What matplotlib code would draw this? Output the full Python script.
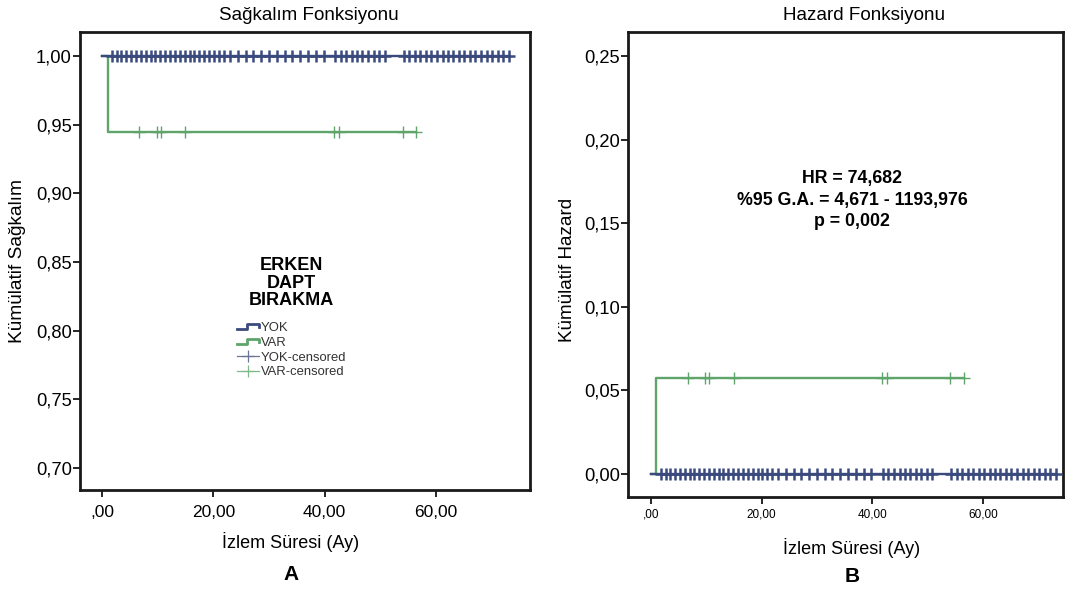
import matplotlib
matplotlib.use("Agg")
import matplotlib.pyplot as plt
import numpy as np
from matplotlib.lines import Line2D
from matplotlib.legend_handler import HandlerBase

plt.rcParams['font.family'] = ['Liberation Sans', 'DejaVu Sans']

# ---------------- data ----------------
groups = ["YOK", "VAR"]
legend_title = "ERKEN\nDAPT\nBIRAKMA"
legend_labels = ["YOK", "VAR", "YOK-censored", "VAR-censored"]

# YOK: no events, all censored
yok_start = 0.0
yok_censor_times = [1.8, 2.7, 3.5, 4.4, 5.3, 6.2, 7.0, 7.9, 8.8, 9.6, 10.5, 11.4,
                    12.3, 13.1, 14.0, 14.9, 15.8, 16.6, 17.5, 18.4, 19.3, 20.1,
                    21.0, 21.9, 23.0, 24.4, 25.8, 27.2, 28.6, 30.0, 31.4, 32.8,
                    34.2, 35.6, 37.0, 38.4, 39.8, 41.9, 42.9, 43.9, 44.9, 45.9,
                    46.8, 47.8, 48.8, 49.8, 50.8, 54.2, 55.2, 56.2, 57.2, 58.2,
                    59.2, 60.2, 61.2, 62.1, 63.1, 64.1, 65.1, 66.1, 67.1, 68.1,
                    69.1, 70.1, 71.1, 72.1, 73.1]
yok_survival = [1.0, 1.0]

# VAR: one event early, rest censored
var_event_times = [1.0]
var_survival = [1.0, 0.9444]
var_censor_times = [6.7, 9.8, 10.6, 15.0, 41.7, 42.6, 54.0, 56.5]

survival_yticks = [0.70, 0.75, 0.80, 0.85, 0.90, 0.95, 1.00]
survival_ylabels = ["0,70", "0,75", "0,80", "0,85", "0,90", "0,95", "1,00"]
hazard_yticks = [0.00, 0.05, 0.10, 0.15, 0.20, 0.25]
hazard_ylabels = ["0,00", "0,05", "0,10", "0,15", "0,20", "0,25"]
xticks = [0, 20, 40, 60]
xlabels = [",00", "20,00", "40,00", "60,00"]

hr_text = "HR = 74,682\n%95 G.A. = 4,671 - 1193,976\np = 0,002"

BLUE = "#3a4a7c"
GREEN = "#5ea46b"
BLUE_L = "#6a7596"
GREEN_L = "#7fb98a"

W, H = 1077, 590
fig = plt.figure(figsize=(W / 100, H / 100), dpi=100)


def fx(px):
    return px / W


def fy(py):
    return 1 - py / H


axA = fig.add_axes([fx(80), fy(490), fx(530 - 80), (490 - 32) / H])
axB = fig.add_axes([fx(628), fy(497), fx(1063 - 628), (497 - 32) / H])

# step data
yok_x = [yok_start, yok_censor_times[-1]]
var_x = [0.0] + var_event_times + [var_censor_times[-1]]
var_s = var_survival + [var_survival[-1]]

yok_H = [-np.log(s) for s in yok_survival]
var_H = [-np.log(s) for s in var_s]

# ---- Panel A: survival ----
axA.plot(var_x, var_s, drawstyle="steps-post", color=GREEN, lw=1.7, zorder=2)
axA.plot(var_censor_times, [var_survival[-1]] * len(var_censor_times), ls="none",
         marker="+", ms=9, mew=1.0, color=GREEN, zorder=3)
axA.plot(yok_x, yok_survival, color=BLUE, lw=1.7, zorder=4)
axA.plot(yok_censor_times, [yok_survival[-1]] * len(yok_censor_times), ls="none",
         marker="+", ms=9, mew=1.8, color=BLUE, zorder=5)

axA.set_xlim(-3.95, 76.9)
axA.set_ylim(0.684, 1.0175)
axA.set_yticks(survival_yticks)
axA.set_yticklabels(survival_ylabels)
axA.set_xticks(xticks)
axA.set_xticklabels(xlabels)
axA.tick_params(axis="x", labelsize=12.5, length=5, width=1.2, direction="out", pad=6)
axA.tick_params(axis="y", labelsize=13.2, length=5, width=1.2, direction="out", pad=1)

# ---- Panel B: hazard ----
axB.plot(var_x, var_H, drawstyle="steps-post", color=GREEN, lw=1.7, zorder=2)
axB.plot(var_censor_times, [var_H[-1]] * len(var_censor_times), ls="none",
         marker="+", ms=9, mew=1.0, color=GREEN, zorder=3)
axB.plot(yok_x, yok_H, color=BLUE, lw=1.7, zorder=4)
axB.plot(yok_censor_times, [yok_H[-1]] * len(yok_censor_times), ls="none",
         marker="+", ms=9, mew=1.8, color=BLUE, zorder=5)

axB.set_xlim(-4.1, 74.4)
axB.set_ylim(-0.0138, 0.2644)
axB.set_yticks(hazard_yticks)
axB.set_yticklabels(hazard_ylabels)
axB.set_xticks(xticks)
axB.set_xticklabels(xlabels)
axB.tick_params(axis="y", labelsize=13.2, length=5, width=1.2, direction="out", pad=1)
axB.tick_params(axis="x", labelsize=8.5, length=5, width=1.2, direction="out", pad=3)

for ax in (axA, axB):
    for sp in ax.spines.values():
        sp.set_linewidth(2.0)
        sp.set_color("#1a1a1a")

# titles, labels
fig.text(fx(309), fy(15), "Sağkalım Fonksiyonu", ha="center", va="center", fontsize=13.6)
fig.text(fx(864), fy(15), "Hazard Fonksiyonu", ha="center", va="center", fontsize=13.6)
fig.text(fx(18), fy(261), "Kümülatif Sağkalım", rotation=90, ha="center", va="center", fontsize=13.8)
fig.text(fx(567), fy(270), "Kümülatif Hazard", rotation=90, ha="center", va="center", fontsize=13.6)
fig.text(fx(291), fy(542), "İzlem Süresi (Ay)", ha="center", va="center", fontsize=13)
fig.text(fx(852), fy(548), "İzlem Süresi (Ay)", ha="center", va="center", fontsize=13)
fig.text(fx(291), fy(575), "A", ha="center", va="center", fontsize=15, fontweight="bold")
fig.text(fx(852), fy(576), "B", ha="center", va="center", fontsize=15, fontweight="bold")

fig.text(fx(852), fy(200), hr_text, ha="center", va="center", fontsize=12.8,
         fontweight="bold", linespacing=1.38)

# legend
fig.text(fx(291), fy(283), legend_title, ha="center", va="center", fontsize=13,
         fontweight="bold", linespacing=1.05)


class StepHandler(HandlerBase):
    def create_artists(self, legend, orig_handle, xdescent, ydescent, width, height,
                       fontsize, trans):
        xs = np.array([0, 0.45, 0.45, 1.0, 1.0]) * width - xdescent
        ys = np.array([0.25, 0.25, 0.8, 0.8, 0.45]) * height - ydescent
        ln = Line2D(xs, ys, color=orig_handle.get_color(), lw=2.0, transform=trans)
        return [ln]


h_yok = Line2D([], [], color=BLUE)
h_var = Line2D([], [], color=GREEN)
h_yok_c = Line2D([], [], color=BLUE_L, lw=0.9, marker="+", ms=9, mew=0.9)
h_var_c = Line2D([], [], color=GREEN_L, lw=0.9, marker="+", ms=9, mew=0.9)

leg = fig.legend([h_yok, h_var, h_yok_c, h_var_c], legend_labels,
                 handler_map={h_yok: StepHandler(), h_var: StepHandler()},
                 loc="upper left", bbox_to_anchor=(fx(237), fy(322)),
                 frameon=False, fontsize=9.4, handlelength=1.65, handletextpad=0.2,
                 labelspacing=0.2, borderpad=0.0, borderaxespad=0.0)
for t in leg.get_texts():
    t.set_color("#333333")

fig.savefig("out.png", dpi=100)
